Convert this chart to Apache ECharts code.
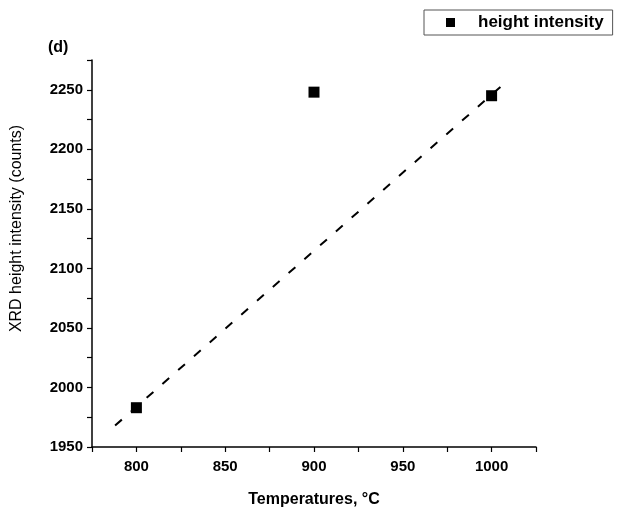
<!DOCTYPE html>
<html>
<head>
<meta charset="utf-8">
<script src="https://cdn.jsdelivr.net/npm/echarts@6/dist/echarts.min.js"></script>
<style>
html,body{margin:0;padding:0;background:#fff;}
#c{width:619px;height:513px;}
</style>
</head>
<body>
<div id="c"></div>
<script>
// Data
const temperatures = [800, 900, 1000];
const heightIntensity = [1983, 2248, 2245];
// dashed fit line end points
const fitX = [788, 1010];
const fitY = [1968, 2259];
const seriesName = 'height intensity';
const xLabelValues = [800, 850, 900, 950, 1000];
const yLabelValues = [1950, 2000, 2050, 2100, 2150, 2200, 2250];

const FONT = '"Liberation Sans", Arial, sans-serif';
const chart = echarts.init(document.getElementById('c'));

const pts = temperatures.map((t, i) => [t, heightIntensity[i]]);
const fit = fitX.map((x, i) => [x, fitY[i]]);

chart.setOption({
  animation: false,
  backgroundColor: '#fff',
  textStyle: { fontFamily: FONT },
  grid: { left: 92, top: 60, right: 83, bottom: 64, containLabel: false },
  title: {
    text: '(d)', left: 43, top: 35,
    textStyle: { fontFamily: FONT, fontSize: 16, fontWeight: 'bold', color: '#000' }
  },
  legend: {
    data: [{ name: seriesName, icon: 'rect' }],
    left: 424, top: 10,
    padding: [4, 9, 4, 22],
    borderColor: '#555', borderWidth: 1,
    itemWidth: 9, itemHeight: 9,
    textStyle: { fontFamily: FONT, fontSize: 17, fontWeight: 'bold', color: '#000', padding: [0, 0, 0, 18] }
  },
  xAxis: {
    type: 'value', min: 775, max: 1025, interval: 25,
    name: 'Temperatures, °C', nameLocation: 'middle', nameGap: 45,
    nameTextStyle: { fontFamily: FONT, fontSize: 16, fontWeight: 'bold', color: '#000' },
    axisLine: { show: true, onZero: false, lineStyle: { color: '#000', width: 1.5 } },
    axisTick: { show: true, inside: false, length: 5, lineStyle: { color: '#000', width: 1.2 } },
    splitLine: { show: false },
    axisLabel: {
      fontFamily: FONT, fontSize: 15, fontWeight: 'bold', color: '#000', margin: 12,
      formatter: v => xLabelValues.includes(v) ? String(v) : ''
    }
  },
  yAxis: {
    type: 'value', min: 1950, max: 2275, interval: 25,
    name: 'XRD height intensity (counts)', nameLocation: 'middle', nameGap: 67,
    nameTextStyle: { fontFamily: FONT, fontSize: 16, color: '#000', padding: [0, 0, 0, 50] },
    axisLine: { show: true, onZero: false, lineStyle: { color: '#000', width: 1.5 } },
    axisTick: { show: true, inside: false, length: 5, lineStyle: { color: '#000', width: 1.2 } },
    splitLine: { show: false },
    axisLabel: {
      fontFamily: FONT, fontSize: 15, fontWeight: 'bold', color: '#000', margin: 9,
      formatter: v => yLabelValues.includes(v) ? String(v) : ''
    }
  },
  series: [
    {
      name: 'fit', type: 'line', data: fit, symbol: 'none', z: 1,
      lineStyle: { color: '#000', width: 2, type: [9, 12] },
      silent: true
    },
    {
      name: seriesName, type: 'scatter', data: pts, symbol: 'rect', symbolSize: 11, z: 3,
      itemStyle: { color: '#000', opacity: 1 }
    }
  ]
});
</script>
</body>
</html>
